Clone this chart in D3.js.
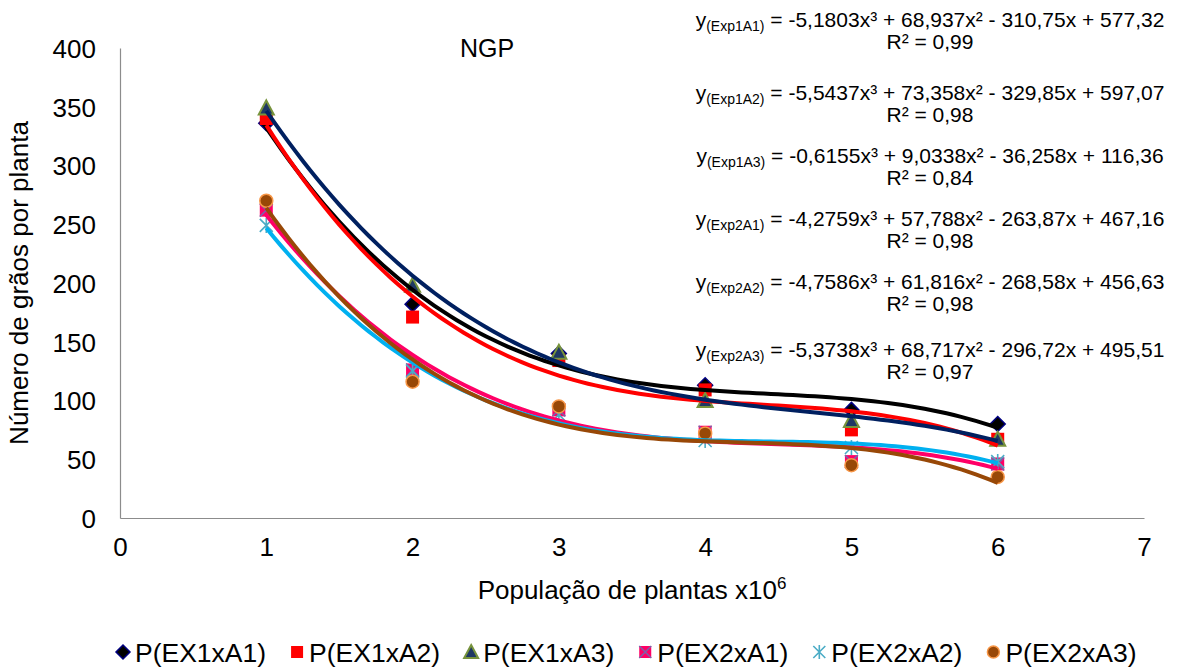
<!DOCTYPE html>
<html>
<head>
<meta charset="utf-8">
<script src="https://cdn.jsdelivr.net/npm/d3@7"></script>
<style>
  body { margin: 0; background: #fff; }
  svg text { font-family: 'Liberation Sans', Arial, sans-serif; fill: #000; }
</style>
</head>
<body>
<svg id="chart" width="1187" height="669"></svg>
<script>
// Data
const populations = [1, 2, 3, 4, 5, 6]
const seriesNames = ['P(EX1xA1)', 'P(EX1xA2)', 'P(EX1xA3)', 'P(EX2xA1)', 'P(EX2xA2)', 'P(EX2xA3)']
const ex1a1 = [336, 182, 140, 113, 92, 80]
const ex1a2 = [340, 171, 134, 109, 75, 67]
const ex1a3 = [349, 198, 141, 100, 83, 67]
const ex2a1 = [262, 126, 92, 73, 48, 46]
const ex2a2 = [249, 125, 88, 66, 60, 48]
const ex2a3 = [270, 116, 95, 72, 45, 35]
const xTicks = [0, 1, 2, 3, 4, 5, 6, 7]
const yTicks = [0, 50, 100, 150, 200, 250, 300, 350, 400]

// Trendline equations as printed on the chart
const eqNames = ['Exp1A1', 'Exp1A2', 'Exp1A3', 'Exp2A1', 'Exp2A2', 'Exp2A3']
const eqBodies = [
  ' = -5,1803x³ + 68,937x² - 310,75x + 577,32',
  ' = -5,5437x³ + 73,358x² - 329,85x + 597,07',
  ' = -0,6155x³ + 9,0338x² - 36,258x + 116,36',
  ' = -4,2759x³ + 57,788x² - 263,87x + 467,16',
  ' = -4,7586x³ + 61,816x² - 268,58x + 456,63',
  ' = -5,3738x³ + 68,717x² - 296,72x + 495,51'
]
const eqR2 = ['0,99', '0,98', '0,84', '0,98', '0,98', '0,97']

const allValues = [ex1a1, ex1a2, ex1a3, ex2a1, ex2a2, ex2a3]

// styles per series
const styles = [
  { shape: 'diamond', fill: '#000000', stroke: '#000080', line: '#000000' },
  { shape: 'square', fill: '#ff0000', stroke: 'none', line: '#ff0000' },
  { shape: 'triangle', fill: '#1f3864', stroke: '#77933c', line: '#002060' },
  { shape: 'xsquare', fill: '#ff0066', stroke: '#7f5fa8', line: '#ff0066' },
  { shape: 'star', fill: 'none', stroke: '#4bacc6', line: '#00b0f0' },
  { shape: 'circle', fill: '#984807', stroke: '#f79646', line: '#984807' }
]

const svg = d3.select('#chart')
const plotLeft = 120
const plotRight = 1144
const plotTop = 48
const plotBottom = 518

let x = d3.scaleLinear().domain([0, 7]).range([plotLeft, plotRight])
let y = d3.scaleLinear().domain([0, 400]).range([plotBottom, plotTop])

// cubic least squares fit, like the spreadsheet trendline
function polyFit (xs, ys, order) {
  let n = order + 1
  let A = d3.range(n).map(i => d3.range(n + 1).map(() => 0))
  xs.forEach((xv, k) => {
    for (let i = 0; i < n; i++) {
      for (let j = 0; j < n; j++) A[i][j] += Math.pow(xv, i + j)
      A[i][n] += ys[k] * Math.pow(xv, i)
    }
  })
  for (let c = 0; c < n; c++) {
    let p = c
    for (let r = c + 1; r < n; r++) if (Math.abs(A[r][c]) > Math.abs(A[p][c])) p = r
    let tmp = A[c]; A[c] = A[p]; A[p] = tmp
    for (let r = 0; r < n; r++) {
      if (r === c) continue
      let f = A[r][c] / A[c][c]
      for (let k = c; k <= n; k++) A[r][k] -= f * A[c][k]
    }
  }
  return d3.range(n).map(i => A[i][n] / A[i][i])
}

// axes
let xAxis = d3.axisBottom(x).tickValues(xTicks).tickFormat(d3.format('d')).tickSize(0).tickPadding(20)
let yAxis = d3.axisLeft(y).tickValues(yTicks).tickFormat(d3.format('d')).tickSize(0).tickPadding(24)

let gx = svg.append('g')
  .attr('class', 'axis axis-x')
  .attr('transform', `translate(0, ${plotBottom})`)
  .call(xAxis)
let gy = svg.append('g')
  .attr('class', 'axis axis-y')
  .attr('transform', `translate(${plotLeft}, 0)`)
  .call(yAxis)

;[gx, gy].forEach(g => {
  g.select('.domain').attr('stroke', '#8c8c8c').attr('stroke-width', 1.2)
  g.selectAll('text').attr('font-size', 26).attr('font-family', "'Liberation Sans', Arial, sans-serif").attr('fill', '#000')
})
gx.selectAll('text').attr('dy', '0.71em')
gy.selectAll('text').attr('dy', '0.36em')

// axis titles
svg.append('text')
  .attr('transform', `translate(28, ${(plotTop + plotBottom) / 2}) rotate(-90)`)
  .attr('text-anchor', 'middle')
  .attr('font-size', 26)
  .text('Número de grãos por planta')

let xTitle = svg.append('text')
  .attr('x', (plotLeft + plotRight) / 2)
  .attr('y', 599)
  .attr('text-anchor', 'middle')
  .attr('font-size', 26)
xTitle.append('tspan').text('População de plantas x10')
xTitle.append('tspan').text('6').attr('font-size', 17).attr('dy', -10)

svg.append('text')
  .attr('x', 487)
  .attr('y', 57)
  .attr('text-anchor', 'middle')
  .attr('font-size', 25)
  .text('NGP')

// marker drawing
function marker (g, shape, st, size) {
  let h = size / 2
  if (shape === 'diamond') {
    g.append('path').attr('d', `M0,${-h - 1}L${h + 1},0L0,${h + 1}L${-h - 1},0Z`)
      .attr('fill', st.fill).attr('stroke', st.stroke).attr('stroke-width', 1.5)
  } else if (shape === 'square') {
    g.append('rect').attr('x', -h).attr('y', -h).attr('width', size).attr('height', size)
      .attr('fill', st.fill)
  } else if (shape === 'triangle') {
    g.append('path').attr('d', `M0,${-h - 1}L${h + 1},${h}L${-h - 1},${h}Z`)
      .attr('fill', st.fill).attr('stroke', st.stroke).attr('stroke-width', 2)
  } else if (shape === 'xsquare') {
    g.append('rect').attr('x', -h).attr('y', -h).attr('width', size).attr('height', size)
      .attr('fill', st.fill)
    g.append('path').attr('d', `M${-h},${-h}L${h},${h}M${h},${-h}L${-h},${h}`)
      .attr('stroke', st.stroke).attr('stroke-width', 1.5)
  } else if (shape === 'star') {
    g.append('path').attr('d', `M${-h},${-h}L${h},${h}M${h},${-h}L${-h},${h}M0,${-h - 1}L0,${h + 1}`)
      .attr('stroke', st.stroke).attr('stroke-width', 1.6).attr('fill', 'none')
  } else if (shape === 'circle') {
    g.append('circle').attr('r', h)
      .attr('fill', st.fill).attr('stroke', st.stroke).attr('stroke-width', 1.5)
  }
}

// series markers
allValues.forEach((vals, si) => {
  let gs = svg.append('g').attr('class', 'series series-' + si)
  vals.forEach((v, i) => {
    let gm = gs.append('g').attr('transform', `translate(${x(populations[i])}, ${y(v)})`)
    marker(gm, styles[si].shape, styles[si], 13)
  })
})

// trendlines over markers
let line = d3.line().x(d => x(d[0])).y(d => y(d[1]))
allValues.forEach((vals, si) => {
  let c = polyFit(populations, vals, 3)
  let pts = d3.range(1, 6.001, 0.05).map(t => [t, c[0] + c[1] * t + c[2] * t * t + c[3] * t * t * t])
  svg.append('path')
    .datum(pts)
    .attr('class', 'trend')
    .attr('fill', 'none')
    .attr('stroke', styles[si].line)
    .attr('stroke-width', 4)
    .attr('d', line)
})

// equations
const eqY = [27, 100, 163, 226, 289, 357]
eqNames.forEach((name, i) => {
  let t = svg.append('text')
    .attr('x', 930)
    .attr('y', eqY[i])
    .attr('text-anchor', 'middle')
    .attr('font-size', 21)
  t.append('tspan').text('y')
  t.append('tspan').text(`(${name})`).attr('font-size', 14).attr('dy', 4)
  t.append('tspan').text(eqBodies[i]).attr('dy', -4)
  svg.append('text')
    .attr('x', 930)
    .attr('y', eqY[i] + 22)
    .attr('text-anchor', 'middle')
    .attr('font-size', 21)
    .text(`R² = ${eqR2[i]}`)
})

// legend
let lx = 123
const ly = 652
seriesNames.forEach((name, si) => {
  let gm = svg.append('g').attr('transform', `translate(${lx}, ${ly})`)
  marker(gm, styles[si].shape, styles[si], 12)
  let txt = svg.append('text')
    .attr('x', lx + 12)
    .attr('y', ly)
    .attr('dy', '0.36em')
    .attr('font-size', 26.5)
    .text(name)
  lx += 12 + txt.node().getComputedTextLength() + 31
})
</script>
</body>
</html>
